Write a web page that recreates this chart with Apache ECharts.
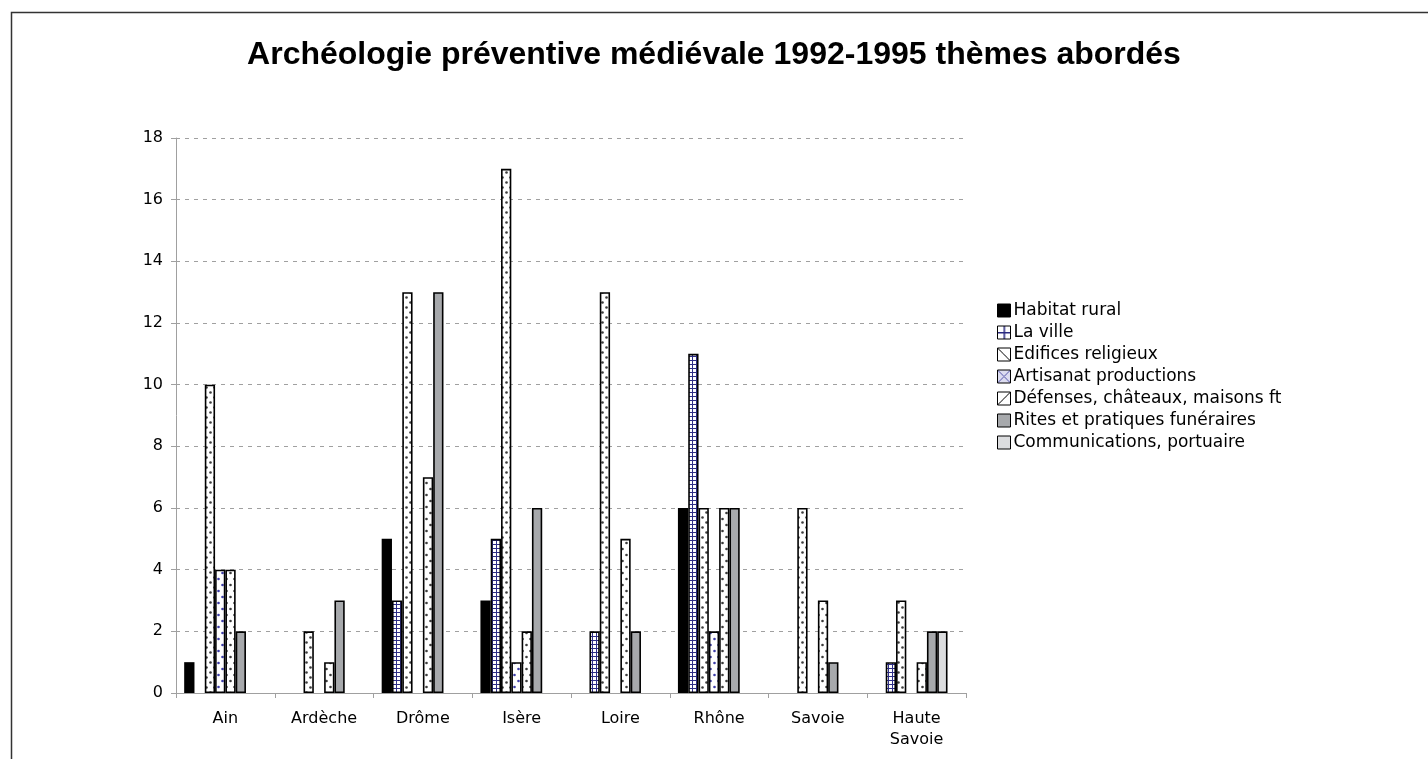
<!DOCTYPE html>
<html>
<head>
<meta charset="utf-8">
<script src="https://cdn.jsdelivr.net/npm/echarts@6/dist/echarts.min.js"></script>
<style>
html,body{margin:0;padding:0;background:#fff;}
#chart{width:1428px;height:759px;}
</style>
</head>
<body>
<div id="chart"></div>
<script>
const categories = ['Ain', 'Ardèche', 'Drôme', 'Isère', 'Loire', 'Rhône', 'Savoie', 'Haute\nSavoie'];
const seriesNames = ['Habitat rural', 'La ville', 'Edifices religieux', 'Artisanat productions', 'Défenses, châteaux, maisons ft', 'Rites et pratiques funéraires', 'Communications, portuaire'];
const habitatRural   = [1, 0, 5, 3, 0, 6, 0, 0];
const laVille        = [0, 0, 3, 5, 2, 11, 0, 1];
const edifices       = [10, 2, 13, 17, 13, 6, 6, 3];
const artisanat      = [4, 0, 0, 1, 0, 2, 0, 0];
const defenses       = [4, 1, 7, 2, 5, 6, 3, 1];
const rites          = [2, 3, 13, 6, 2, 6, 1, 2];
const communications = [0, 0, 0, 0, 0, 0, 0, 2];
const yTicks = [0, 2, 4, 6, 8, 10, 12, 14, 16, 18];

function pattern(w, h, bg, draw) {
  const c = document.createElement('canvas');
  c.width = w; c.height = h;
  const g = c.getContext('2d');
  g.fillStyle = bg; g.fillRect(0, 0, w, h);
  draw(g);
  return { image: c, repeat: 'repeat' };
}
function dots(g, pts, col, r) {
  g.fillStyle = col;
  pts.forEach(p => { g.beginPath(); g.arc(p[0], p[1], r, 0, Math.PI * 2); g.fill(); });
}
const villeFill = pattern(4, 4, '#fff', g => {
  g.fillStyle = '#2e2e86'; g.fillRect(0, 0, 4, 1); g.fillRect(0, 0, 1, 4);
});
const edificesFill = pattern(8, 10, '#fff', g => dots(g, [[2.5, 2.5], [6.5, 7.5]], '#3c3c3c', 1.3));
const artisanatFill = pattern(8, 12, '#fff', g => dots(g, [[2.5, 3], [6.5, 9]], '#3d3da8', 1.3));
const defensesFill = pattern(8, 12, '#fff', g => dots(g, [[2.5, 3], [6.5, 9]], '#3c3c3c', 1.3));

// legend icons
const legEdifices = pattern(13, 13, '#fff', g => { g.strokeStyle = '#000'; g.lineWidth = 1; g.beginPath(); g.moveTo(0, 0); g.lineTo(13, 13); g.stroke(); });
const legDefenses = pattern(13, 13, '#fff', g => { g.strokeStyle = '#000'; g.lineWidth = 1; g.beginPath(); g.moveTo(0, 13); g.lineTo(13, 0); g.stroke(); });
const legArtisanat = pattern(13, 13, '#dcdcf0', g => { g.strokeStyle = '#5555aa'; g.lineWidth = 1; g.beginPath(); g.moveTo(0, 0); g.lineTo(13, 13); g.moveTo(0, 13); g.lineTo(13, 0); g.stroke(); });
const legVille = pattern(13, 13, '#fff', g => { g.fillStyle = '#2a2a80'; g.fillRect(0, 6, 13, 1.5); g.fillRect(6, 0, 1.5, 13); });

const fills = ['#000000', villeFill, edificesFill, artisanatFill, defensesFill, '#a7a9ac', '#dcdddf'];
const legendFills = ['#000000', legVille, legEdifices, legArtisanat, legDefenses, '#a7a9ac', '#dcdddf'];
const values = [habitatRural, laVille, edifices, artisanat, defenses, rites, communications];

const series = seriesNames.map((name, i) => ({
  name: name,
  type: 'bar',
  barWidth: 10.3,
  barGap: '0%',
  data: values[i].map(v => v === 0 ? '-' : v),
  itemStyle: { color: fills[i], borderColor: '#000', borderWidth: i === 0 ? 0 : 1.6 },
  emphasis: { disabled: true },
  animation: false
}));
series.push({ name: '_spacer', type: 'bar', barWidth: 10.3, barGap: '0%', data: categories.map(() => '-'), animation: false });

const chart = echarts.init(document.getElementById('chart'), null, { renderer: 'canvas' });
chart.setOption({
  backgroundColor: '#fff',
  animation: false,
  title: {
    text: 'Archéologie préventive médiévale 1992-1995 thèmes abordés',
    left: 'center', top: 34,
    textStyle: { fontFamily: 'Liberation Sans', fontWeight: 'bold', fontSize: 32, color: '#000' }
  },
  graphic: [{
    type: 'rect', left: 9, top: 10, silent: true,
    shape: { width: 1440, height: 780 },
    style: { fill: 'none', stroke: '#333', lineWidth: 1.5 }
  }],
  legend: {
    orient: 'vertical', left: 997, top: 302, padding: 0,
    itemWidth: 13, itemHeight: 13, itemGap: 5,
    icon: 'rect',
    selectedMode: false,
    data: seriesNames.map((n, i) => ({ name: n, itemStyle: { color: legendFills[i], borderColor: '#000', borderWidth: 1 } })),
    textStyle: { fontFamily: 'DejaVu Sans', fontSize: 17, color: '#000', padding: [0, 0, 0, -2], lineHeight: 17 }
  },
  grid: { left: 176, top: 138, width: 790, height: 555, containLabel: false },
  xAxis: {
    type: 'category',
    data: categories,
    axisLine: { lineStyle: { color: '#a0a0a0', width: 1 } },
    axisTick: { show: true, length: 5, lineStyle: { color: '#a0a0a0' } },
    axisLabel: { fontFamily: 'DejaVu Sans', fontSize: 16, color: '#000', margin: 15, lineHeight: 21 }
  },
  yAxis: {
    type: 'value', min: 0, max: 18, interval: 2,
    axisLine: { show: true, lineStyle: { color: '#a0a0a0', width: 1 } },
    axisTick: { show: true, length: 5, lineStyle: { color: '#a0a0a0' } },
    axisLabel: { fontFamily: 'DejaVu Sans', fontSize: 16, color: '#000', margin: 13 },
    splitLine: { show: true, lineStyle: { color: '#a0a0a0', type: [4, 5], width: 1 } }
  },
  series: series
});
</script>
</body>
</html>
